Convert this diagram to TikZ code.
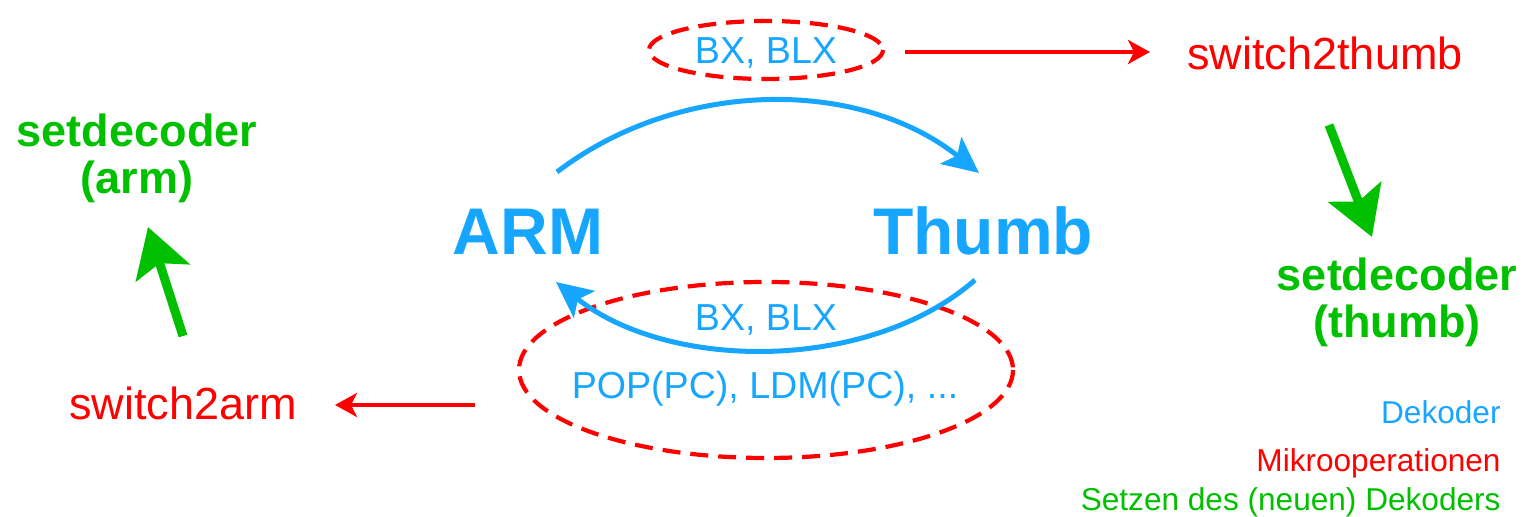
\documentclass[tikz,border=0pt]{standalone}
\usepackage{fontspec}
\setmainfont{Liberation Sans}
\usetikzlibrary{arrows.meta}
\definecolor{dekblue}{RGB}{23,166,255}
\definecolor{mored}{RGB}{255,0,0}
\definecolor{setgreen}{RGB}{0,192,0}
\begin{document}
\begin{tikzpicture}[x=0.5pt,y=-0.5pt,
  modelabel/.style={text=dekblue,font=\fontsize{33}{36}\selectfont\bfseries,anchor=base,inner sep=0pt},
  instr/.style={text=dekblue,font=\fontsize{18.8}{22}\selectfont,anchor=base,inner sep=0pt},
  microop/.style={text=mored,font=\fontsize{22.5}{26}\selectfont,anchor=base,inner sep=0pt},
  setdec/.style={text=setgreen,font=\fontsize{22.5}{23.5}\selectfont\bfseries,align=center,anchor=base,inner sep=0pt},
  legend/.style={font=\fontsize{15.8}{18}\selectfont,anchor=base east,inner sep=0pt},
  group/.style={draw=mored,line width=2.1pt,dash pattern=on 9pt off 5pt},
  modearrow/.style={draw=dekblue,line width=2.5pt,-{Stealth[length=18pt,width=17pt,inset=4pt]}},
  oparrow/.style={draw=mored,line width=2pt,-{Stealth[length=11pt,width=12pt,inset=3pt]}},
  setarrow/.style={draw=setgreen,line width=4.5pt,-{Stealth[length=24pt,width=28pt,inset=5pt]}}
]
\useasboundingbox (0,0) rectangle (1528,517);

% processor modes
\node[modelabel] (arm) at (528,255) {ARM};
\node[modelabel] (thumb) at (983,255) {Thumb};

% instructions causing a mode change, grouped by dashed ellipses
\node[instr] (bxtop) at (766,64) {BX, BLX};
\draw[group] (766,50) ellipse [x radius=117, y radius=29];
\node[instr] (bxbot) at (766,331) {BX, BLX};
\node[instr] (pop) at (765,399) {POP(PC), LDM(PC), ...};
\draw[group] (766,370) ellipse [x radius=247, y radius=88];

% mode transitions
\coordinate (armout) at (557,172);
\coordinate (thumbin) at (979,173);
\coordinate (thumbout) at (975,280);
\coordinate (armin) at (556,282);
\draw[modearrow] (armout) .. controls (680,78) and (860,78) .. (thumbin);
\draw[modearrow] (thumbout) .. controls (870,372) and (670,372) .. (armin);

% micro-operations
\node[microop] (s2t) at (1325,70) {switch2thumb};
\node[microop] (s2a) at (183,420) {switch2arm};
\coordinate (topgrp) at (905,52);
\coordinate (topend) at (1150,52);
\coordinate (botgrp) at (475,405);
\coordinate (botend) at (335,405);
\draw[oparrow] (topgrp) -- (topend);
\draw[oparrow] (botgrp) -- (botend);

% decoder settings (base anchor sits on the last line)
\node[setdec] (sdarm) at (137,194) {setdecoder\\(arm)};
\node[setdec] (sdthumb) at (1397,338) {setdecoder\\(thumb)};
\coordinate (s2aup) at (183,336);
\coordinate (sdarmin) at (148,227);
\coordinate (s2tdown) at (1329,125);
\coordinate (sdthumbin) at (1372,237);
\draw[setarrow] (s2aup) -- (sdarmin);
\draw[setarrow] (s2tdown) -- (sdthumbin);

% legend
\node[legend,text=dekblue] (ldek) at (1501,424) {Dekoder};
\node[legend,text=mored] (lmik) at (1501,472) {Mikrooperationen};
\node[legend,text=setgreen] (lset) at (1501,511) {Setzen des (neuen) Dekoders};
\end{tikzpicture}
\end{document}
